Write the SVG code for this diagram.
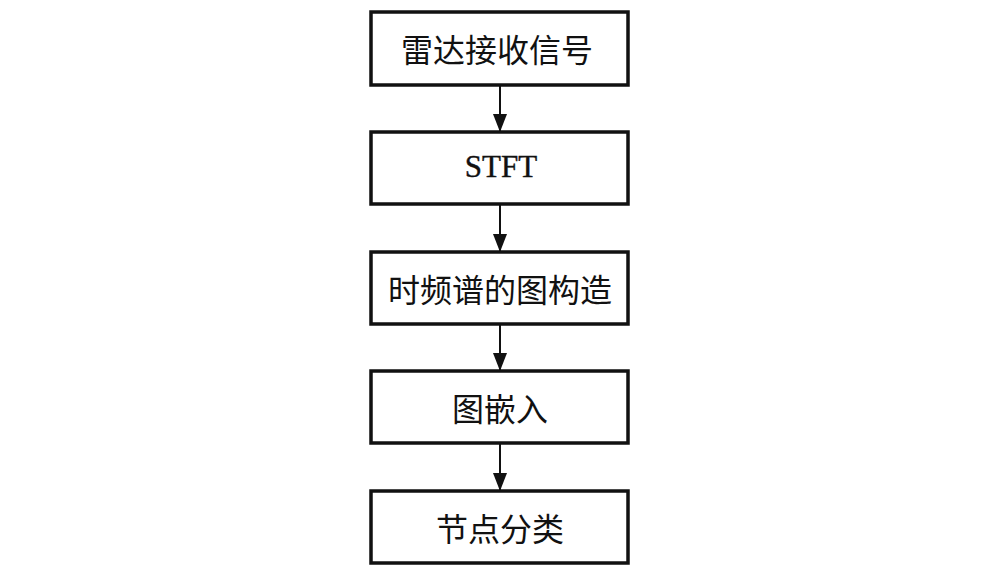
<svg xmlns="http://www.w3.org/2000/svg" width="1000" height="565" viewBox="0 0 1000 565">
<style>
.box{fill:#fff;stroke:#111;stroke-width:3.5}
.cn{font-family:"Noto Sans CJK SC","Noto Sans CJK JP",sans-serif;font-size:32px;fill:#111;text-anchor:middle}
.en{font-family:"Liberation Serif",serif;font-size:31px;fill:#111;text-anchor:middle;stroke:#111;stroke-width:0.4}
.ln{stroke:#111;stroke-width:2;fill:none}
</style>
<defs>
<marker id="ad" markerUnits="userSpaceOnUse" markerWidth="18" markerHeight="14" refX="17" refY="7" orient="auto" viewBox="0 0 18 14">
<path d="M0,0 L18,7 L0,14 Z" fill="#111"/>
</marker>
</defs>
<rect width="1000" height="565" fill="#fff"/>
<g id="connectors">
<line class="ln" x1="500" y1="86" x2="500" y2="131" marker-end="url(#ad)"/>
<line class="ln" x1="500" y1="205" x2="500" y2="251" marker-end="url(#ad)"/>
<line class="ln" x1="500" y1="325" x2="500" y2="370" marker-end="url(#ad)"/>
<line class="ln" x1="500" y1="444" x2="500" y2="490" marker-end="url(#ad)"/>
</g>
<g id="n1"><rect class="box" x="371" y="12" width="257" height="73"/><text class="cn" x="497" y="62">雷达接收信号</text></g>
<g id="n2"><rect class="box" x="371" y="132" width="257" height="72"/><text class="en" x="501" y="177">STFT</text></g>
<g id="n3"><rect class="box" x="371" y="252" width="257" height="72"/><text class="cn" x="500" y="302">时频谱的图构造</text></g>
<g id="n4"><rect class="box" x="371" y="371" width="257" height="72"/><text class="cn" x="500" y="421">图嵌入</text></g>
<g id="n5"><rect class="box" x="371" y="491" width="257" height="72"/><text class="cn" x="500" y="541">节点分类</text></g>
</svg>
